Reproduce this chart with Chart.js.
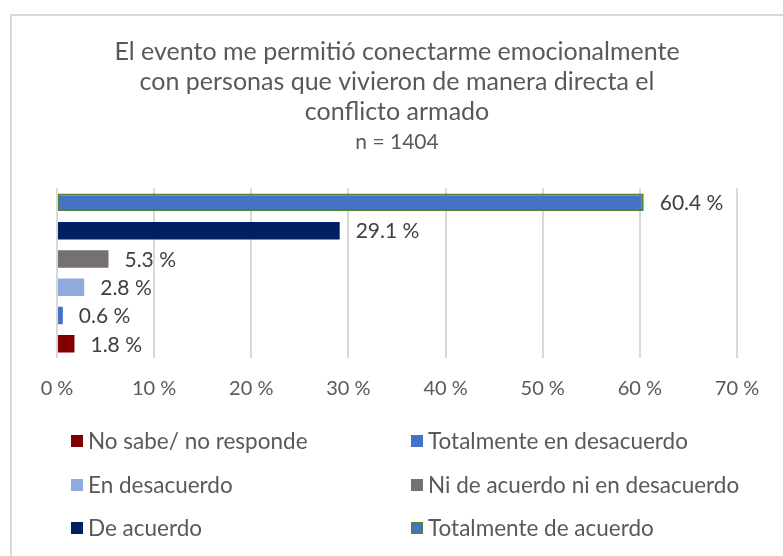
<!DOCTYPE html>
<html>
<head>
<meta charset="utf-8">
<script src="https://cdn.jsdelivr.net/npm/chart.js@4.4.1/dist/chart.umd.min.js"></script>
<style>
  html, body { margin: 0; padding: 0; background: #ffffff; overflow: hidden; }
  #wrap { position: relative; width: 783px; height: 556px; overflow: hidden; }
  #frame { position: absolute; left: 10px; top: 14px; width: 800px; height: 600px; border: 2px solid #d9d9d9; box-sizing: border-box; }
  #c { position: absolute; left: 0; top: 0; }
</style>
</head>
<body>
<div id="wrap">
  <div id="frame"></div>
  <canvas id="c" width="783" height="556"></canvas>
</div>
<script>
// ---- data ----
const categories = [''];
const seriesNames = [
  'Totalmente de acuerdo',
  'De acuerdo',
  'Ni de acuerdo ni en desacuerdo',
  'En desacuerdo',
  'Totalmente en desacuerdo',
  'No sabe/ no responde'
];
const seriesValues = [60.4, 29.1, 5.3, 2.8, 0.6, 1.8];
const seriesColors = ['#4472C4', '#002060', '#767171', '#8FAADC', '#4472C4', '#800000'];
const seriesBorderColors = ['#548235', '#002060', '#767171', '#8FAADC', '#4472C4', '#800000'];
const xTickValues = [0, 10, 20, 30, 40, 50, 60, 70];
const titleLines = [
  'El evento me permitió conectarme emocionalmente',
  'con personas que vivieron de manera directa el',
  'conflicto armado'
];
const subtitleText = 'n = 1404';

const FONT = "Lato, 'Open Sans', sans-serif";
const TEXT = '#595959';

const datasets = seriesNames.map((name, i) => ({
  label: name,
  data: [seriesValues[i]],
  backgroundColor: seriesColors[i],
  borderColor: seriesBorderColors[i],
  borderWidth: i === 0 ? 2 : 0,
  borderSkipped: false,
  barPercentage: 0.62,
  categoryPercentage: 1.0
}));

const valueLabels = {
  id: 'valueLabels',
  afterDatasetsDraw(chart) {
    const ctx = chart.ctx;
    ctx.save();
    ctx.font = '21px ' + FONT;
    ctx.fillStyle = '#404040';
    ctx.textAlign = 'left';
    ctx.textBaseline = 'middle';
    chart.data.datasets.forEach((ds, i) => {
      const meta = chart.getDatasetMeta(i);
      meta.data.forEach((el, j) => {
        ctx.fillText(ds.data[j].toFixed(1) + ' %', el.x + 16, el.y + 1);
      });
    });
    ctx.restore();
  }
};

const gridLegend = {
  id: 'gridLegend',
  afterDraw(chart) {
    const ctx = chart.ctx;
    const items = chart.data.datasets.map((ds, i) => ({ ds, i })).reverse();
    const colX = [71, 411];
    const rowY = [441, 485, 528];
    ctx.save();
    ctx.font = '22.5px ' + FONT;
    ctx.textAlign = 'left';
    ctx.textBaseline = 'middle';
    items.forEach((it, k) => {
      const x = colX[k % 2];
      const y = rowY[Math.floor(k / 2)];
      const s = 12;
      ctx.fillStyle = it.ds.backgroundColor;
      ctx.fillRect(x, y - s / 2, s, s);
      if (it.ds.borderWidth > 0) {
        ctx.strokeStyle = it.ds.borderColor;
        ctx.lineWidth = 1.5;
        ctx.strokeRect(x + 0.75, y - s / 2 + 0.75, s - 1.5, s - 1.5);
      }
      ctx.fillStyle = TEXT;
      ctx.fillText(it.ds.label, x + 17, y + 1);
    });
    ctx.restore();
  }
};

new Chart(document.getElementById('c'), {
  type: 'bar',
  data: { labels: categories, datasets },
  plugins: [valueLabels, gridLegend],
  options: {
    indexAxis: 'y',
    responsive: false,
    animation: false,
    layout: { padding: { left: 57, right: 46, top: 0, bottom: 136 } },
    plugins: {
      legend: { display: false },
      tooltip: { enabled: false },
      title: {
        display: true,
        text: titleLines,
        color: TEXT,
        font: { family: FONT, size: 25, weight: 'normal', lineHeight: 1.2 },
        padding: { top: 37, bottom: 0 }
      },
      subtitle: {
        display: true,
        text: subtitleText,
        color: TEXT,
        font: { family: FONT, size: 21, weight: 'normal', lineHeight: 1.2 },
        padding: { top: 3, bottom: 33 }
      }
    },
    scales: {
      y: { display: false },
      x: {
        min: 0,
        max: 70,
        afterBuildTicks(axis) { axis.ticks = xTickValues.map(v => ({ value: v })); },
        ticks: {
          callback: v => v + ' %',
          color: TEXT,
          font: { family: FONT, size: 20 },
          padding: 19,
          maxRotation: 0
        },
        grid: { color: '#d9d9d9', lineWidth: 2, drawTicks: false },
        border: { display: false }
      }
    }
  }
});
</script>
</body>
</html>
